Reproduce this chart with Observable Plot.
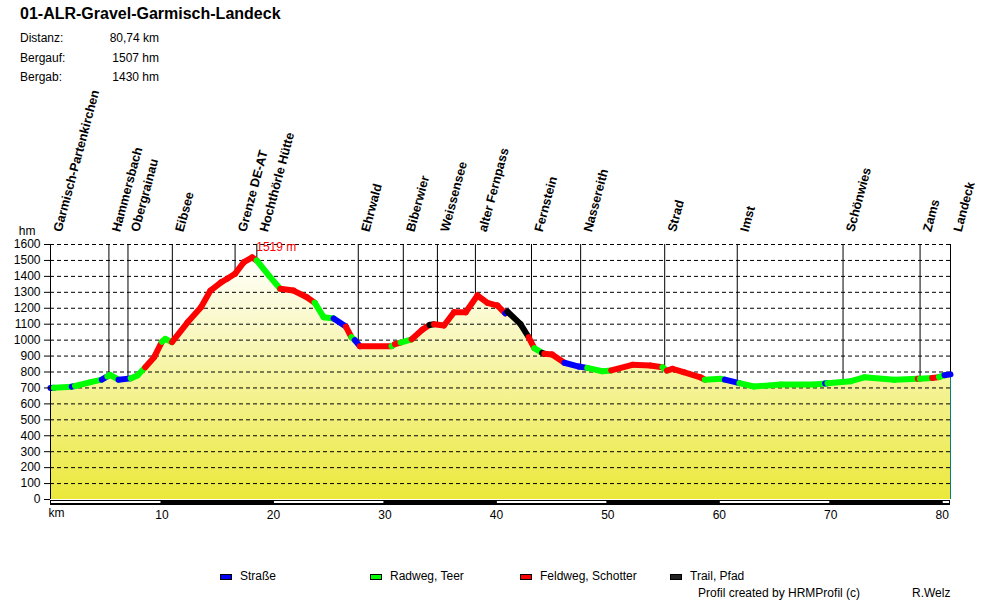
<!DOCTYPE html>
<html>
<head>
<meta charset="utf-8">
<script src="https://cdn.jsdelivr.net/npm/d3@7"></script>
<script src="https://cdn.jsdelivr.net/npm/@observablehq/plot@0.6"></script>
<style>
  body { margin: 0; background: #fff; }
  #wrap { position: relative; width: 1000px; height: 600px; font-family: "Liberation Sans", Arial, sans-serif; color: #000; }
  #wrap svg { position: absolute; left: 0; top: 0; }
  .abs { position: absolute; white-space: nowrap; font-size: 12px; line-height: 14px; }
  .sw { position: absolute; width: 10px; height: 4px; border: 1px solid #000; }
</style>
</head>
<body>
<div id="wrap"></div>
<script>
// ---- data ----
const title = "01-ALR-Gravel-Garmisch-Landeck";
const statLabels = ["Distanz:", "Bergauf:", "Bergab:"];
const statValues = ["80,74 km", "1507 hm", "1430 hm"];
const totalKm = 80.74;

// profile points: km, elevation (m), surface of segment following the point
const profKm = [0.0, 0.3, 1.9, 2.2, 3.6, 4.6, 5.1, 5.35, 6.1, 7.2, 7.8, 8.5, 9.3, 10.0, 10.3, 10.9, 12.3, 13.5, 14.35, 15.3, 15.85, 16.55, 17.35, 18.1, 18.5, 19.6, 20.6, 21.8, 23.0, 23.7, 24.5, 25.4, 26.5, 27.0, 27.3, 27.75, 30.6, 30.9, 31.4, 32.4, 33.35, 34.0, 34.4, 35.3, 36.2, 37.25, 38.3, 39.2, 40.1, 40.8, 41.0, 42.15, 42.9, 43.4, 44.1, 44.3, 45.0, 46.1, 47.4, 48.15, 49.5, 50.3, 52.2, 53.8, 54.9, 55.3, 55.8, 56.8, 58.3, 58.7, 60.1, 60.5, 61.8, 63.1, 65.5, 68.5, 69.5, 69.7, 71.8, 73.0, 75.7, 77.8, 78.0, 79.1, 79.7, 80.2, 80.74];
const profElev = [700, 701, 708, 712, 736, 752, 772, 782, 752, 760, 778, 830, 893, 990, 1008, 987, 1112, 1206, 1311, 1363, 1385, 1416, 1489, 1519, 1500, 1405, 1322, 1311, 1269, 1235, 1144, 1136, 1085, 1018, 1000, 962, 962, 975, 985, 1005, 1065, 1095, 1100, 1092, 1175, 1175, 1280, 1234, 1217, 1168, 1178, 1102, 1018, 950, 920, 914, 910, 858, 834, 826, 805, 810, 845, 841, 830, 809, 820, 799, 767, 752, 757, 752, 730, 709, 721, 721, 728, 730, 742, 767, 751, 757, 757, 762, 768, 780, 785];
const profSurf = ["S","R","S","R","R","S","R","R","S","R","R","F","F","R","R","F","F","F","F","F","F","F","F","F","R","R","F","F","F","R","R","S","F","R","S","F","R","F","R","F","F","K","F","F","F","F","F","F","F","S","K","K","F","R","K","F","F","S","S","R","R","F","F","F","R","F","F","F","F","R","R","S","R","R","R","R","S","R","R","R","R","F","R","F","R","S","S"];

// surface categories
const surfCodes = ["S", "R", "F", "K"];
const surfNames = ["Straße", "Radweg, Teer", "Feldweg, Schotter", "Trail, Pfad"];
const surfColors = ["#0000ff", "#00ff00", "#ff0000", "#000000"];

// waypoints
const wpNames = ["Garmisch-Partenkirchen", "Hammersbach", "Obergrainau", "Eibsee", "Grenze DE-AT", "Hochthörle Hütte", "Ehrwald", "Biberwier", "Weissensee", "alter Fernpass", "Fernstein", "Nassereith", "Strad", "Imst", "Schönwies", "Zams", "Landeck"];
const wpKm = [0, 5.24, 6.95, 10.93, 16.56, 18.51, 27.61, 31.65, 34.71, 38.12, 43.15, 47.56, 55.10, 61.61, 71.10, 78.01, 80.74];
const wpElev = [700, 780, 752, 987, 1416, 1500, 965, 987, 1100, 1270, 990, 832, 815, 735, 740, 757, 785];

const peakKm = 18.1, peakElev = 1519, peakLabel = "1519 m";

const yTicks = [0, 100, 200, 300, 400, 500, 600, 700, 800, 900, 1000, 1100, 1200, 1300, 1400, 1500, 1600];
const xTicks = [10, 20, 30, 40, 50, 60, 70, 80];
const barStarts = [0, 10, 20, 30, 40, 50, 60, 70, 80];

// ---- build tables ----
const profile = profKm.map((k, i) => ({km: k, elev: profElev[i]}));
const segs = profKm.slice(0, -1).map((k, i) => ({
  x1: k, y1: profElev[i], x2: profKm[i + 1], y2: profElev[i + 1], s: profSurf[i]
}));
const colorOf = s => surfColors[surfCodes.indexOf(s)];
const waypoints = wpNames.map((n, i) => ({name: n, km: wpKm[i], elev: wpElev[i]}));
const bar = barStarts.map((a, i) => ({a, b: Math.min(a + 10, totalKm), dark: i % 2 === 1}));

// scale bar mark drawn through the plot's x scale
function scaleBar(index, scales, values, dimensions) {
  const g = d3.create("svg:g");
  const yb = dimensions.height - dimensions.marginBottom;
  const x = scales.x;
  g.append("rect").attr("x", x(0)).attr("y", yb + 1).attr("width", x(totalKm) - x(0)).attr("height", 5).attr("fill", "#000");
  for (const d of bar) {
    if (!d.dark) {
      g.append("rect").attr("x", x(d.a) + 1).attr("y", yb + 2).attr("width", Math.max(0, x(d.b) - x(d.a) - 2)).attr("height", 2).attr("fill", "#fff");
    }
  }
  return g.node();
}

const plot = Plot.plot({
  width: 1000,
  height: 600,
  marginLeft: 50,
  marginRight: 50,
  marginTop: 244,
  marginBottom: 101,
  style: {fontFamily: "'Liberation Sans', Arial, sans-serif", fontSize: "12px", background: "transparent", overflow: "visible", color: "#000"},
  x: {domain: [0, totalKm]},
  y: {domain: [0, 1600]},
  marks: [
    Plot.areaY(profile, {x: "km", y: "elev", fill: "url(#profGrad)"}),
    Plot.ruleY(yTicks.filter(d => d > 0), {stroke: "#000", strokeWidth: 1, strokeDasharray: "4,3"}),
    Plot.ruleX(waypoints, {x: "km", y1: "elev", y2: 1600, stroke: "#000", strokeWidth: 1}),
    Plot.ruleX([profile[profile.length - 1]], {x: "km", y1: 0, y2: "elev", stroke: "#008080", strokeWidth: 1}),
    Plot.link(segs, {x1: "x1", y1: "y1", x2: "x2", y2: "y2", stroke: d => colorOf(d.s), strokeWidth: 6, strokeLinecap: "round"}),
    Plot.axisY({ticks: yTicks, tickFormat: d => String(d), tickSize: 6, tickPadding: 4, fontSize: 12, label: null, stroke: "#000"}),
    Plot.ruleX([0], {y1: 0, y2: 1600, stroke: "#000", insetBottom: -6}),
    scaleBar,
    Plot.axisX({ticks: xTicks, tickFormat: d => String(d), tickSize: 0, tickPadding: 11, fontSize: 12, label: null}),
    Plot.text(["km"], {frameAnchor: "bottom-left", textAnchor: "start", dx: -2, dy: 17, fontSize: 12}),
    Plot.text(["hm"], {frameAnchor: "top-left", textAnchor: "end", dx: -15, dy: -18, fontSize: 12}),
    Plot.text(waypoints, {x: "km", text: "name", frameAnchor: "top", rotate: -75, textAnchor: "start", lineAnchor: "bottom", dx: 11, dy: -12, fontWeight: "bold", fontSize: 12.6, fill: "#000"}),
    Plot.text([{km: peakKm, elev: peakElev, t: peakLabel}], {x: "km", y: "elev", text: "t", textAnchor: "start", fill: "#ff0000", dx: 4, dy: -10, fontSize: 12})
  ]
});

// gradient for the area fill
const svg = d3.select(plot);
const defs = svg.insert("defs", ":first-child");
const grad = defs.append("linearGradient").attr("id", "profGrad").attr("x1", 0).attr("x2", 0).attr("y1", 0).attr("y2", 1);
grad.append("stop").attr("offset", "0%").attr("stop-color", "#ffffff");
grad.append("stop").attr("offset", "100%").attr("stop-color", "#ebe83a");

const wrap = document.getElementById("wrap");
wrap.appendChild(plot);

function addText(txt, left, top, extra = {}) {
  const d = document.createElement("div");
  d.className = "abs";
  d.textContent = txt;
  d.style.left = left + "px";
  d.style.top = top + "px";
  Object.assign(d.style, extra);
  wrap.appendChild(d);
  return d;
}
addText(title, 20, 5, {fontSize: "16px", fontWeight: "bold", lineHeight: "18px"});
const statTops = [30.5, 50.5, 70];
statLabels.forEach((l, i) => {
  addText(l, 20, statTops[i]);
  addText(statValues[i], 60, statTops[i], {width: "99px", textAlign: "right"});
});
surfNames.forEach((n, i) => {
  const x = 220 + i * 150;
  const sw = document.createElement("div");
  sw.className = "sw";
  sw.style.left = x + "px";
  sw.style.top = "574px";
  sw.style.background = surfColors[i];
  if (surfCodes[i] === "K") sw.style.background = "#222";
  wrap.appendChild(sw);
  addText(n, x + 20, 568.5);
});
addText("Profil created by HRMProfil (c)", 698, 585.5);
addText("R.Welz", 912, 585.5);
</script>
</body>
</html>
